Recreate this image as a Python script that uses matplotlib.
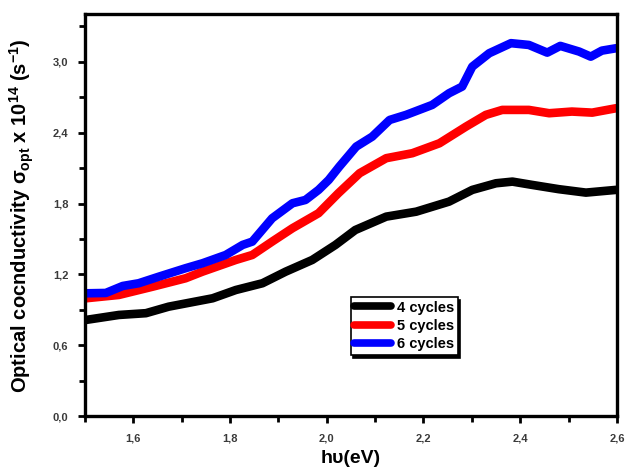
import matplotlib
matplotlib.use("Agg")
import matplotlib.pyplot as plt
from matplotlib.ticker import MultipleLocator, FuncFormatter

plt.rcParams['font.family'] = ['Liberation Sans', 'DejaVu Sans']
plt.rcParams['mathtext.fontset'] = 'custom'
plt.rcParams['mathtext.rm'] = 'Liberation Sans:bold'
plt.rcParams['mathtext.bf'] = 'Liberation Sans:bold'
plt.rcParams['mathtext.it'] = 'Liberation Sans:bold'

# 4 cycles (black)
x4 = [1.502, 1.570, 1.626, 1.673, 1.764, 1.812, 1.867, 1.915, 1.970, 2.018, 2.059,
      2.123, 2.185, 2.253, 2.301, 2.350, 2.384, 2.425, 2.480, 2.536, 2.598]
y4 = [0.816, 0.858, 0.873, 0.928, 0.999, 1.069, 1.126, 1.224, 1.323, 1.450, 1.576,
      1.689, 1.731, 1.816, 1.915, 1.971, 1.985, 1.957, 1.921, 1.892, 1.915]

# 5 cycles (red)
x5 = [1.502, 1.570, 1.640, 1.708, 1.743, 1.812, 1.846, 1.887, 1.929, 1.983, 2.024,
      2.068, 2.123, 2.177, 2.233, 2.288, 2.329, 2.363, 2.418, 2.460, 2.507, 2.549, 2.598]
y5 = [0.999, 1.027, 1.097, 1.168, 1.224, 1.323, 1.365, 1.478, 1.591, 1.718, 1.887,
      2.056, 2.183, 2.225, 2.309, 2.450, 2.549, 2.591, 2.591, 2.563, 2.577, 2.568, 2.605]

# 6 cycles (blue)
x6 = [1.502, 1.543, 1.578, 1.611, 1.653, 1.708, 1.743, 1.791, 1.826, 1.846, 1.887,
      1.929, 1.956, 1.983, 2.004, 2.026, 2.061, 2.094, 2.130, 2.164, 2.218, 2.253,
      2.280, 2.301, 2.336, 2.381, 2.418, 2.456, 2.483, 2.522, 2.546, 2.569, 2.598]
y6 = [1.041, 1.044, 1.103, 1.126, 1.182, 1.253, 1.295, 1.365, 1.450, 1.478, 1.675,
      1.802, 1.830, 1.915, 1.999, 2.112, 2.281, 2.365, 2.506, 2.549, 2.633, 2.732,
      2.788, 2.957, 3.070, 3.155, 3.140, 3.075, 3.132, 3.084, 3.041, 3.092, 3.112]

labels = ['4 cycles', '5 cycles', '6 cycles']
colors = ['black', 'red', 'blue']

fig = plt.figure(figsize=(6.25, 4.73), dpi=100)
ax = fig.add_axes([0.136, 0.1195, 0.851, 0.8505])

lw = 6.2
for xs, ys, lab, c in zip([x4, x5, x6], [y4, y5, y6], labels, colors):
    ax.plot(xs, ys, color=c, lw=lw, label=lab, solid_capstyle='round',
            solid_joinstyle='round')

ax.set_xlim(1.5, 2.6)
ax.set_ylim(0, 3.40)

ax.xaxis.set_major_locator(MultipleLocator(0.2))
ax.xaxis.set_minor_locator(MultipleLocator(0.1))
ax.yaxis.set_major_locator(MultipleLocator(0.6))
ax.yaxis.set_minor_locator(MultipleLocator(0.3))

fmt = FuncFormatter(lambda v, p: f"{v:.1f}".replace('.', ','))
ax.xaxis.set_major_formatter(fmt)
ax.yaxis.set_major_formatter(fmt)

for s in ax.spines.values():
    s.set_linewidth(2.4)
ax.tick_params(which='both', direction='out', top=False, right=False, width=2)
ax.tick_params(which='major', length=5, labelsize=8, labelcolor='#3a3a3a', pad=7)
ax.tick_params(which='minor', length=4)
for t in ax.get_xticklabels() + ax.get_yticklabels():
    t.set_fontweight('bold')

ax.set_xlabel('hυ(eV)', fontsize=14, fontweight='bold', labelpad=5)
ax.set_ylabel(r'Optical cocnductivity $\sigma_{opt}$ x 10$^{14}$ (s$^{-1}$)',
              fontsize=14.5, fontweight='bold', labelpad=12)

leg = ax.legend(loc='center', bbox_to_anchor=(0.60, 0.225), frameon=True,
                fancybox=False, shadow={'color': 'black', 'alpha': 1.0},
                edgecolor='black', framealpha=1,
                prop={'weight': 'bold', 'size': 10.5}, handlelength=2.5,
                handletextpad=0.4, borderpad=0.25, labelspacing=0.3,
                borderaxespad=0)
leg.get_frame().set_linewidth(1.2)
for h in leg.get_lines():
    h.set_linewidth(5.5)

fig.savefig('out.png', dpi=100)
